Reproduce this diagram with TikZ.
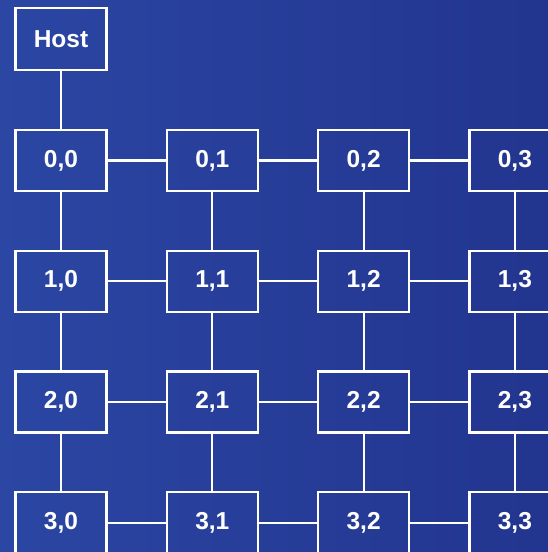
\documentclass[tikz,border=0pt]{standalone}
\usepackage{fontspec}
\setmainfont{Liberation Sans}
\definecolor{bgleft}{HTML}{2B46A3}
\definecolor{bgright}{HTML}{22358F}
\begin{document}
\begin{tikzpicture}[x=1pt, y=-1pt,
    cell/.style={draw=white, line width=2.2pt, minimum width=91pt, minimum height=61pt,
      inner sep=0pt, text=white, font=\fontsize{24.5}{24.5}\selectfont\bfseries},
    link/.style={draw=white, line width=2.2pt}]
  % Background
  \fill[left color=bgleft, right color=bgright] (0,0) rectangle (548,552);
  \useasboundingbox (0,0) rectangle (548,552);
  \clip (0,0) rectangle (548,552);
  % Host
  \node[cell, minimum height=62pt] (host) at (61,39) {Host};
  % Mesh
  \foreach \r in {0,...,3}
    \foreach \c in {0,...,3}
      \node[cell] (n\r\c) at (61+151.3*\c, 160.5+120.7*\r) {\r,\c};
  % Connections
  \draw[link] (host) -- (n00);
  \foreach \r in {0,...,3}
    \foreach \c/\d in {0/1,1/2,2/3}
      \draw[link] (n\r\c) -- (n\r\d);
  \foreach \c in {0,...,3}
    \foreach \r/\s in {0/1,1/2,2/3}
      \draw[link] (n\r\c) -- (n\s\c);
\end{tikzpicture}
\end{document}
